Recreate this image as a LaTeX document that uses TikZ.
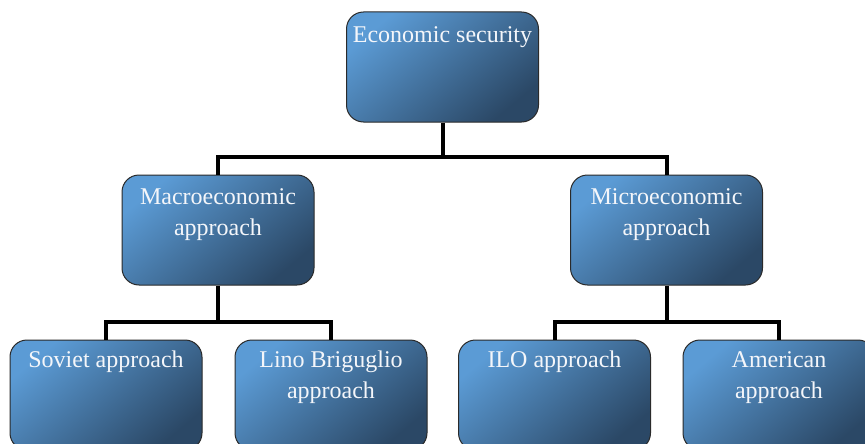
\documentclass[tikz,border=0pt]{standalone}
\usepackage{fontspec}
\setmainfont{Liberation Serif}
\usetikzlibrary{calc}
\definecolor{boxlight}{HTML}{5B9BD5}
\definecolor{boxdark}{HTML}{2B4866}
\definecolor{boxedge}{HTML}{2A2A2A}
\definecolor{txtcol}{HTML}{F4F6FA}
\tikzset{
  box/.style={draw=boxedge, line width=1pt, rounded corners=17pt,
    minimum width=192pt, minimum height=110pt, inner sep=0pt,
    top color=boxlight, bottom color=boxdark, shading angle=40},
  txt/.style={text=txtcol, font=\fontsize{24}{31}\selectfont, align=center,
    anchor=base, inner sep=0pt},
  conn/.style={line width=4pt, draw=black}
}
\begin{document}
\begin{tikzpicture}[x=1pt,y=-1pt]
\useasboundingbox (0,0) rectangle (865,444);
\clip (0,0) rectangle (865,444);
\fill[white] (0,0) rectangle (865,444);
\coordinate (j0) at (442.5,157);
\coordinate (j1) at (218,322);
\coordinate (j2) at (666.5,322);
\node[box] (top) at (442.5,67) {};
\node[box] (macro) at (218,230) {};
\node[box] (micro) at (666.5,230) {};
\node[box] (sov) at (106,395) {};
\node[box] (lino) at (331,395) {};
\node[box] (ilo) at (554.5,395) {};
\node[box] (amer) at (779,395) {};
\draw[conn] (top.south) -- (j0);
\draw[conn] (j0) -| (macro.north);
\draw[conn] (j0) -| (micro.north);
\draw[conn] (macro.south) -- (j1);
\draw[conn] (j1) -| (sov.north);
\draw[conn] (j1) -| (lino.north);
\draw[conn] (micro.south) -- (j2);
\draw[conn] (j2) -| (ilo.north);
\draw[conn] (j2) -| (amer.north);
\node[txt] at ($(top.north)+(0,31)$) {Economic security};
\node[txt] at ($(macro.north)+(0,61)$) {Macroeconomic\\approach};
\node[txt] at ($(micro.north)+(0,61)$) {Microeconomic\\approach};
\node[txt] at ($(sov.north)+(0,28)$) {Soviet approach};
\node[txt] at ($(lino.north)+(0,59)$) {Lino Briguglio\\approach};
\node[txt] at ($(ilo.north)+(0,28)$) {ILO approach};
\node[txt] at ($(amer.north)+(0,59)$) {American\\approach};
\end{tikzpicture}
\end{document}
